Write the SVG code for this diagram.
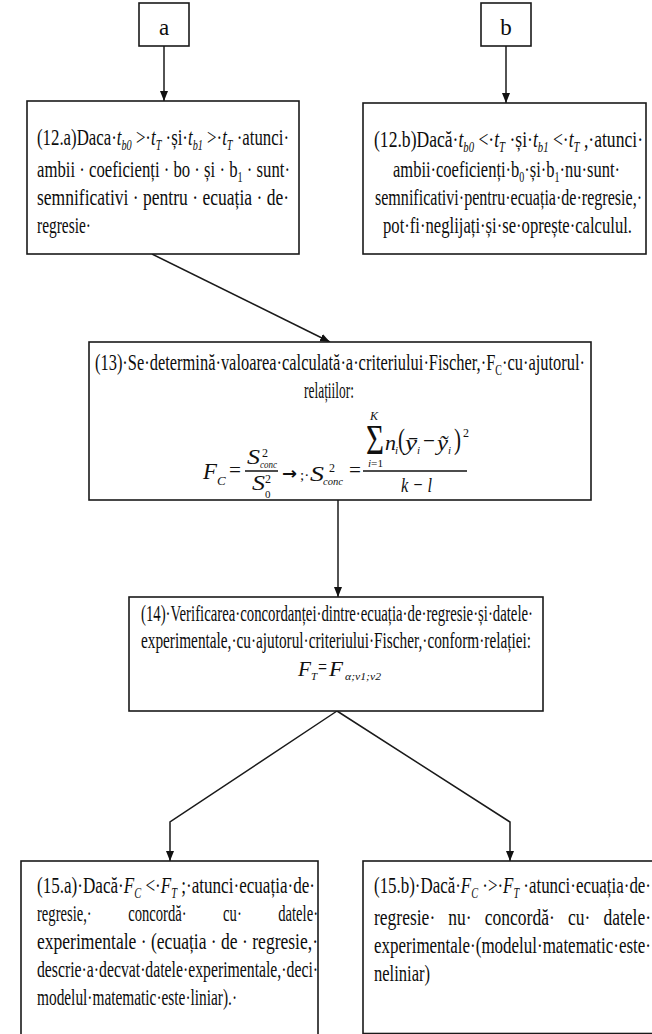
<svg xmlns="http://www.w3.org/2000/svg" width="652" height="1034" viewBox="0 0 652 1034">
<defs>
<style>
.t{font-family:"Liberation Serif","Times New Roman",serif;font-size:23px;fill:#0d0d0d}
.i{font-style:italic}
.s{font-size:14px}
.box{fill:#fff;stroke:#1a1a1a;stroke-width:1.6}
.c{fill:none;stroke:#1a1a1a;stroke-width:1.5;marker-end:url(#ah)}
.bar{stroke:#111;stroke-width:1.3}
.pre{white-space:pre}
.m{font-family:"Liberation Serif","Times New Roman",serif;font-style:italic;fill:#111}
.u{font-family:"Liberation Serif","Times New Roman",serif;fill:#111}
</style>
<marker id="ah" markerUnits="userSpaceOnUse" markerWidth="10" markerHeight="10" viewBox="0 0 10 10" refX="10" refY="5" orient="auto"><path d="M0,1 L10,5 L0,9 z" fill="#111"/></marker>
</defs>
<rect width="652" height="1034" fill="#fff"/>

<g id="connectors">
<line class="c" x1="164" y1="46" x2="164" y2="101"/>
<line class="c" x1="506" y1="46" x2="506" y2="103"/>
<line class="c" x1="152" y1="254" x2="330" y2="342"/>
<line class="c" x1="338" y1="500" x2="338" y2="597"/>
<polyline class="c" points="337,711 170,822 170,861"/>
<polyline class="c" points="337,711 510,822 510,861"/>
</g>

<g id="node-a">
<rect class="box" x="139" y="3" width="50" height="43"/>
<text class="t" x="164" y="35" text-anchor="middle" font-size="19">a</text>
</g>

<g id="node-b">
<rect class="box" x="481" y="3" width="50" height="43"/>
<text class="t" x="506" y="35" text-anchor="middle" font-size="19">b</text>
</g>

<g id="node-12a">
<rect class="box" x="27" y="101" width="272" height="153"/>
<text class="t" x="37" y="145" textLength="252" lengthAdjust="spacingAndGlyphs">(12.a)Daca·<tspan class="i">t</tspan><tspan class="s i" dy="5">b0</tspan><tspan dy="-5"> &gt;·</tspan><tspan class="i">t</tspan><tspan class="s i" dy="5">T</tspan><tspan dy="-5"> ·și·</tspan><tspan class="i">t</tspan><tspan class="s i" dy="5">b1</tspan><tspan dy="-5"> &gt;·</tspan><tspan class="i">t</tspan><tspan class="s i" dy="5">T</tspan><tspan dy="-5"> ·atunci·</tspan></text>
<text class="t" x="37" y="177" textLength="253" lengthAdjust="spacingAndGlyphs">ambii · coeficienți · bo · și · b<tspan class="s" dy="5">1</tspan><tspan dy="-5"> · sunt·</tspan></text>
<text class="t" x="37" y="205" textLength="252" lengthAdjust="spacingAndGlyphs">semnificativi · pentru · ecuația · de·</text>
<text class="t" x="37" y="233" textLength="54" lengthAdjust="spacingAndGlyphs">regresie·</text>
</g>

<g id="node-12b">
<rect class="box" x="363" y="103" width="283" height="151"/>
<text class="t" x="374" y="147" textLength="269" lengthAdjust="spacingAndGlyphs">(12.b)Dacă·<tspan class="i">t</tspan><tspan class="s i" dy="5">b0</tspan><tspan dy="-5"> &lt;·</tspan><tspan class="i">t</tspan><tspan class="s i" dy="5">T</tspan><tspan dy="-5"> ·și·</tspan><tspan class="i">t</tspan><tspan class="s i" dy="5">b1</tspan><tspan dy="-5"> &lt;·</tspan><tspan class="i">t</tspan><tspan class="s i" dy="5">T</tspan><tspan dy="-5"> ,·atunci·</tspan></text>
<text class="t" x="393" y="177" textLength="227" lengthAdjust="spacingAndGlyphs">ambii·coeficienți·b<tspan class="s" dy="5">0</tspan><tspan dy="-5">·și·b</tspan><tspan class="s" dy="5">1</tspan><tspan dy="-5">·nu·sunt·</tspan></text>
<text class="t" x="375" y="205" textLength="267" lengthAdjust="spacingAndGlyphs">semnificativi·pentru·ecuația·de·regresie,·</text>
<text class="t" x="383" y="233" textLength="249" lengthAdjust="spacingAndGlyphs">pot·fi·neglijați·și·se·oprește·calculul.</text>
</g>

<g id="node-13">
<rect class="box" x="89" y="342" width="502" height="158"/>
<text class="t" x="95" y="370" textLength="490" lengthAdjust="spacingAndGlyphs">(13)·Se·determină·valoarea·calculată·a·criteriului·Fischer,·F<tspan class="s" dy="5">C</tspan><tspan dy="-5">·cu·ajutorul·</tspan></text>
<text class="t" x="304" y="398" textLength="50" lengthAdjust="spacingAndGlyphs">relațiilor:</text>
<!-- left side -->
<text class="m" x="203" y="479" font-size="24" textLength="14" lengthAdjust="spacingAndGlyphs">F</text>
<text class="m" x="217" y="485" font-size="13">C</text>
<text class="u" x="229" y="477" font-size="22" textLength="12" lengthAdjust="spacingAndGlyphs">=</text>
<text class="m" x="247" y="464" font-size="22" textLength="13" lengthAdjust="spacingAndGlyphs">S</text>
<text class="u" x="262" y="457" font-size="12">2</text>
<text class="m" x="260" y="468" font-size="11" textLength="17" lengthAdjust="spacingAndGlyphs">conc</text>
<line class="bar" x1="245" y1="471" x2="278" y2="471"/>
<text class="m" x="252" y="490" font-size="22" textLength="13" lengthAdjust="spacingAndGlyphs">S</text>
<text class="u" x="265" y="483" font-size="12">2</text>
<text class="u" x="265" y="498" font-size="11">0</text>
<text x="282" y="479" font-family="DejaVu Sans, sans-serif" font-size="17" font-weight="bold" fill="#111" textLength="15" lengthAdjust="spacingAndGlyphs">→</text>
<text class="u" x="300" y="480" font-size="15">;·</text>
<text class="m" x="310" y="481" font-size="22" textLength="14" lengthAdjust="spacingAndGlyphs">S</text>
<text class="u" x="329" y="472" font-size="12">2</text>
<text class="m" x="323" y="485" font-size="11" textLength="20" lengthAdjust="spacingAndGlyphs">conc</text>
<text class="u" x="349" y="477" font-size="22" textLength="12" lengthAdjust="spacingAndGlyphs">=</text>
<!-- big fraction -->
<text class="m" x="370" y="420" font-size="12">K</text>
<text class="u" x="366" y="454" font-size="42" textLength="18" lengthAdjust="spacingAndGlyphs">Σ</text>
<text class="u" x="368" y="467" font-size="11" textLength="15" lengthAdjust="spacingAndGlyphs"><tspan class="i">i</tspan>=1</text>
<text class="m" x="385" y="450" font-size="22" textLength="11" lengthAdjust="spacingAndGlyphs">n</text>
<text class="m" x="395" y="454" font-size="11">i</text>
<text class="u" x="398" y="449" font-size="30" textLength="7" lengthAdjust="spacingAndGlyphs">(</text>
<text class="m" x="405" y="450" font-size="22" textLength="12" lengthAdjust="spacingAndGlyphs">ȳ</text>
<text class="m" x="417" y="454" font-size="11">i</text>
<text class="u" x="423" y="448" font-size="22" textLength="12" lengthAdjust="spacingAndGlyphs">−</text>
<text class="m" x="437" y="450" font-size="22" textLength="11" lengthAdjust="spacingAndGlyphs">ỹ</text>
<text class="m" x="448" y="454" font-size="11">i</text>
<text class="u" x="454" y="449" font-size="30" textLength="7" lengthAdjust="spacingAndGlyphs">)</text>
<text class="u" x="463" y="437" font-size="12">2</text>
<line class="bar" x1="363" y1="471" x2="467" y2="471"/>
<text class="m" x="401" y="492" font-size="22" textLength="31" lengthAdjust="spacingAndGlyphs">k − l</text>
</g>

<g id="node-14">
<rect class="box" x="129" y="597" width="414" height="114"/>
<text class="t" x="141" y="621" textLength="392" lengthAdjust="spacingAndGlyphs">(14)·Verificarea·concordanței·dintre·ecuația·de·regresie·și·datele·</text>
<text class="t" x="141" y="648" textLength="390" lengthAdjust="spacingAndGlyphs">experimentale,·cu·ajutorul·criteriului·Fischer,·conform·relației:</text>
<text class="m" x="298" y="676" font-size="22" textLength="13" lengthAdjust="spacingAndGlyphs">F</text>
<text class="m" x="311" y="680" font-size="11">T</text>
<text class="u" x="318" y="674" font-size="20" textLength="9" lengthAdjust="spacingAndGlyphs">=</text>
<text class="m" x="329" y="676" font-size="22" textLength="14" lengthAdjust="spacingAndGlyphs">F</text>
<text class="m" x="345" y="680" font-size="11" textLength="36" lengthAdjust="spacingAndGlyphs">α;ν1;ν2</text>
</g>

<g id="node-15a">
<rect class="box" x="21" y="861" width="297" height="176"/>
<text class="t" x="37" y="893" textLength="278" lengthAdjust="spacingAndGlyphs">(15.a)·Dacă·<tspan class="i">F</tspan><tspan class="s i" dy="5">C</tspan><tspan dy="-5"> &lt;·</tspan><tspan class="i">F</tspan><tspan class="s i" dy="5">T</tspan><tspan dy="-5"> ;·atunci·ecuația·de·</tspan></text>
<text class="t pre" x="37" y="921" textLength="281" lengthAdjust="spacingAndGlyphs" xml:space="preserve">regresie,·          concordă·          cu·          datele·</text>
<text class="t" x="37" y="949" textLength="281" lengthAdjust="spacingAndGlyphs">experimentale · (ecuația · de · regresie,·</text>
<text class="t" x="37" y="977" textLength="281" lengthAdjust="spacingAndGlyphs">descrie·a·decvat·datele·experimentale,·deci·</text>
<text class="t" x="37" y="1005" textLength="200" lengthAdjust="spacingAndGlyphs">modelul·matematic·este·liniar).·</text>
</g>

<g id="node-15b">
<rect class="box" x="363" y="861" width="300" height="172.5"/>
<text class="t" x="374" y="893" textLength="277" lengthAdjust="spacingAndGlyphs">(15.b)·Dacă·<tspan class="i">F</tspan><tspan class="s i" dy="5">C</tspan><tspan dy="-5"> ·&gt;·</tspan><tspan class="i">F</tspan><tspan class="s i" dy="5">T</tspan><tspan dy="-5"> ·atunci·ecuația·de·</tspan></text>
<text class="t pre" x="374" y="925" textLength="277" lengthAdjust="spacingAndGlyphs" xml:space="preserve">regresie·   nu·   concordă·   cu·   datele·</text>
<text class="t" x="374" y="953" textLength="277" lengthAdjust="spacingAndGlyphs">experimentale·(modelul·matematic·este·</text>
<text class="t" x="374" y="981" textLength="56" lengthAdjust="spacingAndGlyphs">neliniar)</text>
</g>
</svg>
